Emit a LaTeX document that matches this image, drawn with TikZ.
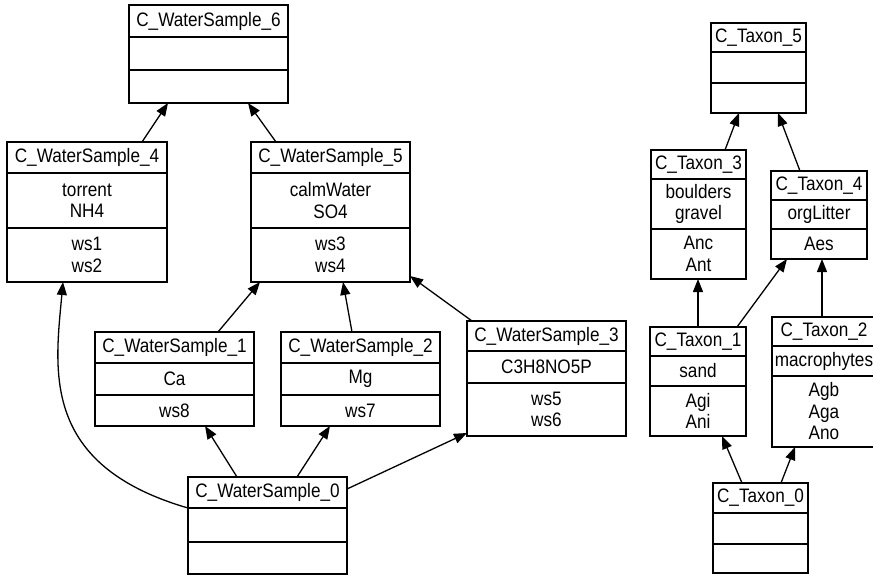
\documentclass[tikz,border=0pt]{standalone}
\usepackage{fontspec}
\setmainfont[FakeStretch=0.88]{Liberation Sans}
\usetikzlibrary{arrows.meta,calc}
\tikzset{
  box/.style={draw, line width=1.3pt, inner sep=0pt, outer sep=0pt, rectangle},
  sepline/.style={line width=1.3pt},
  txt/.style={font=\fontsize{19.5}{21.5}\selectfont, align=center, inner sep=0pt},
  arr/.style={line width=1.3pt, -{Triangle[length=13pt,width=10pt]}},
}
% #1 name, #2 left, #3 top, #4 right, #5 bottom, #6 divider1, #7 divider2
\newcommand\umlbox[7]{%
  \node[box, minimum width={(#4)-(#2)}, minimum height={(#5)-(#3)}] (#1) at ({((#2)+(#4))/2},{((#3)+(#5))/2}) {};
  \draw[sepline] (#2,#6) -- (#4,#6);
  \draw[sepline] (#2,#7) -- (#4,#7);
  \coordinate (#1-t) at ({((#2)+(#4))/2},{((#3)+(#6))/2});
  \coordinate (#1-a) at ({((#2)+(#4))/2},{((#6)+(#7))/2});
  \coordinate (#1-o) at ({((#2)+(#4))/2},{((#7)+(#5))/2});
}
\begin{document}
\begin{tikzpicture}[x=1pt,y=-1pt]
\useasboundingbox (0,0) rectangle (873,575);
% Water samples
\umlbox{ws6}{129}{5}{288}{103}{37}{70}
\umlbox{ws4}{7}{142}{167}{282}{173}{228}
\umlbox{ws5}{251}{142}{410}{282}{173}{228}
\umlbox{ws1}{95}{332}{254}{426}{363}{395}
\umlbox{ws2}{281}{332}{440}{426}{363}{395}
\umlbox{ws3}{467}{321}{626}{436}{351}{383}
\umlbox{ws0}{188}{477}{347}{574}{508}{542}
% Taxa
\umlbox{t5}{711}{23}{806}{113}{52}{83}
\umlbox{t3}{651}{150}{746}{279}{179}{229}
\umlbox{t4}{771}{171}{867}{259}{200}{229}
\umlbox{t1}{650}{327}{746}{436}{356}{386}
\umlbox{t2}{772}{317}{876}{447}{346}{376}
\umlbox{t0}{713}{483}{808}{573}{513}{544}
% texts
\node[txt] (ws6title) at (ws6-t) {C\_WaterSample\_6};
\node[txt] (ws4title) at (ws4-t) {C\_WaterSample\_4};
\node[txt] (ws4attr) at (ws4-a) {torrent\\NH4};
\node[txt] (ws4ops) at (ws4-o) {ws1\\ws2};
\node[txt] (ws5title) at (ws5-t) {C\_WaterSample\_5};
\node[txt] (ws5attr) at (ws5-a) {calmWater\\SO4};
\node[txt] (ws5ops) at (ws5-o) {ws3\\ws4};
\node[txt] (ws1title) at (ws1-t) {C\_WaterSample\_1};
\node[txt] (ws1attr) at (ws1-a) {Ca};
\node[txt] (ws1ops) at (ws1-o) {ws8};
\node[txt] (ws2title) at (ws2-t) {C\_WaterSample\_2};
\node[txt] (ws2attr) at (ws2-a) {Mg};
\node[txt] (ws2ops) at (ws2-o) {ws7};
\node[txt] (ws3title) at (ws3-t) {C\_WaterSample\_3};
\node[txt] (ws3attr) at (ws3-a) {C3H8NO5P};
\node[txt] (ws3ops) at (ws3-o) {ws5\\ws6};
\node[txt] (ws0title) at (ws0-t) {C\_WaterSample\_0};
\node[txt] (t5title) at (t5-t) {C\_Taxon\_5};
\node[txt] (t3title) at (t3-t) {C\_Taxon\_3};
\node[txt] (t3attr) at (t3-a) {boulders\\gravel};
\node[txt] (t3ops) at (t3-o) {Anc\\Ant};
\node[txt] (t4title) at (t4-t) {C\_Taxon\_4};
\node[txt] (t4attr) at (t4-a) {orgLitter};
\node[txt] (t4ops) at (t4-o) {Aes};
\node[txt] (t1title) at (t1-t) {C\_Taxon\_1};
\node[txt] (t1attr) at (t1-a) {sand};
\node[txt] (t1ops) at (t1-o) {Agi\\Ani};
\node[txt] (t2title) at (t2-t) {C\_Taxon\_2};
\node[txt] (t2attr) at (t2-a) {macrophytes};
\node[txt] (t2ops) at (t2-o) {Agb\\Aga\\Ano};
\node[txt] (t0title) at (t0-t) {C\_Taxon\_0};
% connectors: water samples
\draw[arr] ([xshift=135pt]ws4.north west) -- ([xshift=39pt]ws6.south west);
\draw[arr] ([xshift=25pt]ws5.north west) -- ([xshift=119pt]ws6.south west);
\draw[arr] ([xshift=123pt]ws1.north west) -- ([xshift=9pt]ws5.south west);
\draw[arr] ([xshift=71pt]ws2.north west) -- ([xshift=92pt]ws5.south west);
\draw[arr] ([xshift=5pt]ws3.north west) -- ([yshift=6pt]ws5.south east);
\draw[arr] ([xshift=49pt]ws0.north west) -- ([xshift=110pt]ws1.south west);
\draw[arr] ([xshift=109pt]ws0.north west) -- ([xshift=49pt]ws2.south west);
\draw[arr] ([yshift=-12pt]ws0.north east) -- ([yshift=3pt]ws3.south west);
\draw[arr] ([yshift=-31pt]ws0.north west) .. controls (40,465) and (55,370) .. ([xshift=56pt]ws4.south west);
% connectors: taxa
\draw[arr] ([xshift=74pt]t3.north west) -- ([xshift=28pt]t5.south west);
\draw[arr] ([xshift=29pt]t4.north west) -- ([xshift=67pt]t5.south west);
\draw[arr] ([xshift=48pt]t1.north west) -- ([xshift=47pt]t3.south west);
\draw[arr] ([xshift=87pt]t1.north west) -- ([xshift=16pt]t4.south west);
\draw[arr] ([xshift=50pt]t2.north west) -- ([xshift=51pt]t4.south west);
\draw[arr] ([xshift=29pt]t0.north west) -- ([xshift=72pt]t1.south west);
\draw[arr] ([xshift=68pt]t0.north west) -- ([xshift=23pt]t2.south west);
\end{tikzpicture}
\end{document}
